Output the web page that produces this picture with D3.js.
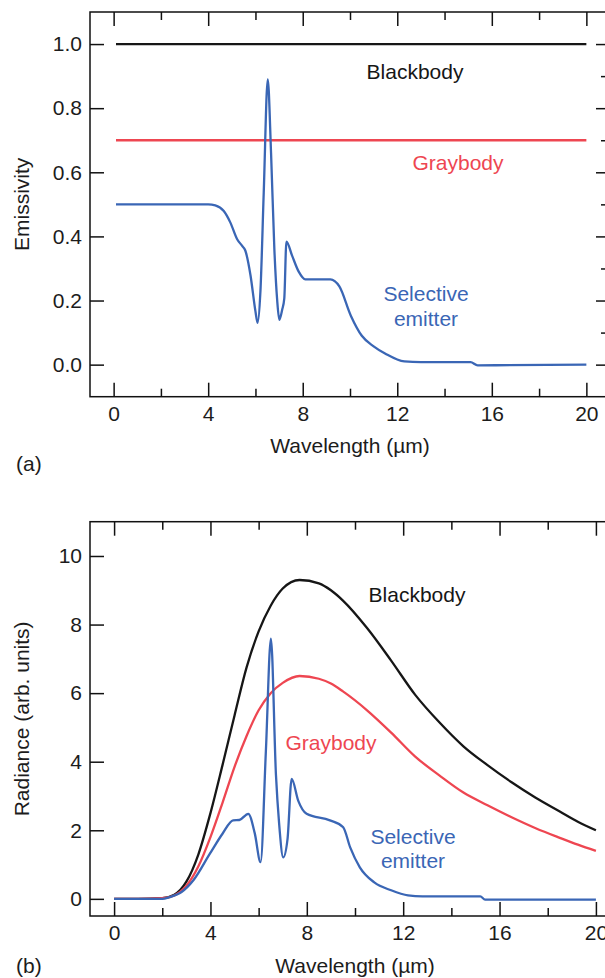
<!DOCTYPE html>
<html>
<head>
<meta charset="utf-8">
<script src="https://d3js.org/d3.v7.min.js"></script>
<style>
    body { margin: 0; background: #fff; }
    svg { display: block; font-family: "Liberation Sans", Arial, Helvetica, sans-serif; }
</style>
</head>
<body>
<svg id="chart" width="605" height="978"></svg>
<script>
    // ---- values ----
    // (a) emissivity
    const flatWl = [0.1, 20]
    const blackEmis = [1.0, 1.0]
    const grayEmis = [0.7, 0.7]
    const selEmisWl = [0.1, 2, 4, 4.3, 4.66, 4.94, 5.22, 5.43, 5.57, 5.79, 6.0, 6.09, 6.21, 6.35, 6.52,
                       6.66, 6.8, 6.92, 7.01, 7.13, 7.22, 7.31, 7.55, 7.83, 8.11, 9.17, 9.55, 10.04, 10.5,
                       11.0, 11.5, 12.3, 13, 15.1, 15.4, 20]
    const selEmis = [0.5, 0.5, 0.5, 0.497, 0.479, 0.443, 0.392, 0.371, 0.356, 0.279, 0.166, 0.13, 0.228, 0.536, 0.89,
                     0.66, 0.36, 0.2, 0.14, 0.171, 0.207, 0.384, 0.34, 0.29, 0.266, 0.266, 0.244, 0.152, 0.09,
                     0.057, 0.034, 0.01, 0.008, 0.008, -0.002, 0]

    // (b) radiance (arb. units)
    const bbWl = [0, 1, 2, 2.5, 3, 3.5, 4, 4.5, 5, 5.5, 6, 6.5, 7, 7.7, 8.5, 9, 9.5, 10.5, 11.5, 12.5,
                  13.5, 14.5, 15.5, 16.5, 17.5, 18.5, 19.25, 20]
    const blackRad = [0, 0, 0.02, 0.12, 0.5, 1.3, 2.5, 3.9, 5.35, 6.75, 7.8, 8.55, 9.05, 9.3, 9.2, 9.0, 8.7, 7.9, 6.95, 5.95,
                      5.15, 4.45, 3.9, 3.4, 2.95, 2.55, 2.25, 2.0]
    const grayRad = [0, 0, 0.02, 0.1, 0.38, 0.95, 1.8, 2.8, 3.85, 4.75, 5.5, 6.0, 6.3, 6.5, 6.42, 6.28, 6.05, 5.5, 4.85, 4.15,
                     3.6, 3.1, 2.73, 2.38, 2.06, 1.78, 1.58, 1.4]
    const selRadWl = [0, 1, 2, 2.3, 2.8, 3.3, 3.97, 4.5, 4.94, 5.2, 5.57, 5.84, 6.08, 6.3, 6.51, 6.72, 6.85, 7.02, 7.2,
                      7.37, 7.65, 7.99, 8.96, 9.51, 9.8, 10.2, 10.8, 11.5, 12.2, 12.8, 15.2, 15.4, 20]
    const selRad = [0, 0, 0, 0.05, 0.2, 0.55, 1.31, 1.9, 2.29, 2.3, 2.48, 1.91, 1.07, 4.3, 7.59, 3.6, 2.2, 1.21, 1.75,
                    3.5, 2.85, 2.48, 2.29, 2.09, 1.5, 0.92, 0.48, 0.25, 0.1, 0.07, 0.07, -0.02, -0.02]

    // ticks
    const xMajor = [0, 4, 8, 12, 16, 20]
    const xMinor = [2, 6, 10, 14, 18]
    const emisMajor = [0, 0.2, 0.4, 0.6, 0.8, 1.0]
    const emisMinor = [0.1, 0.3, 0.5, 0.7, 0.9]
    const radMajor = [0, 2, 4, 6, 8, 10]
    const radMinor = [1, 3, 5, 7, 9]

    const BLACK = "#161616", RED = "#ee4651", BLUE = "#3a66b5"
    const svg = d3.select("#chart")

    function zip(xs, ys) { return xs.map((v, i) => [v, ys[i]]) }

    function drawPanel(p) {
        let g = svg.append("g")
        let x = d3.scaleLinear().domain([-1, 21]).range([p.left, p.right])
        let y = d3.scaleLinear().domain(p.yDomain).range([p.bottom, p.top])

        // axes: ticks point inward, frame drawn separately
        function styleAxis(sel) {
            sel.select(".domain").remove()
            sel.selectAll(".tick line").attr("stroke", "#111").attr("stroke-width", 1.5)
            sel.selectAll(".tick text").attr("fill", "#1c1c1c").attr("font-size", 21)
            sel.attr("font-family", null).attr("font-size", null)
        }
        g.append("g").attr("transform", `translate(0,${p.bottom})`)
            .call(d3.axisBottom(x).tickValues(xMajor).tickSize(-14).tickPadding(9).tickFormat(d3.format("d")))
            .call(styleAxis)
        g.append("g").attr("transform", `translate(0,${p.bottom})`)
            .call(d3.axisBottom(x).tickValues(xMinor).tickSize(-8).tickFormat(""))
            .call(styleAxis)
        g.append("g").attr("transform", `translate(0,${p.top})`)
            .call(d3.axisTop(x).tickValues(xMajor).tickSize(-14).tickFormat(""))
            .call(styleAxis)
        g.append("g").attr("transform", `translate(0,${p.top})`)
            .call(d3.axisTop(x).tickValues(xMinor).tickSize(-8).tickFormat(""))
            .call(styleAxis)
        g.append("g").attr("transform", `translate(${p.left},0)`)
            .call(d3.axisLeft(y).tickValues(p.yMajor).tickSize(-14).tickPadding(8).tickFormat(p.yFmt))
            .call(styleAxis)
        g.append("g").attr("transform", `translate(${p.right},0)`)
            .call(d3.axisRight(y).tickValues(p.yMajor).tickSize(-14).tickFormat(""))
            .call(styleAxis)
        g.append("g").attr("transform", `translate(${p.right},0)`)
            .call(d3.axisRight(y).tickValues(p.yMinor).tickSize(-9).tickFormat(""))
            .call(styleAxis)

        g.append("rect")
            .attr("x", p.left).attr("y", p.top)
            .attr("width", p.right - p.left).attr("height", p.bottom - p.top)
            .attr("fill", "none").attr("stroke", "#111").attr("stroke-width", 1.5)

        // curves
        let line = d3.line().x(d => x(d[0])).y(d => y(d[1])).curve(d3.curveMonotoneX)
        p.series.forEach(s => {
            g.append("path").datum(s.pts)
                .attr("d", line)
                .attr("fill", "none")
                .attr("stroke", s.color)
                .attr("stroke-width", 2.3)
                .attr("stroke-linejoin", "round")
        })

        // curve labels
        p.labels.forEach(l => {
            g.append("text").attr("x", l.x).attr("y", l.y)
                .attr("text-anchor", "middle").attr("font-size", 21)
                .attr("fill", l.color).text(l.text)
        })

        // axis titles
        g.append("text")
            .attr("x", (x(0) + x(20)) / 2).attr("y", p.xTitleY)
            .attr("text-anchor", "middle").attr("font-size", 21).attr("fill", "#1c1c1c")
            .text("Wavelength (µm)")
        g.append("text")
            .attr("transform", `translate(29,${(p.top + p.bottom) / 2}) rotate(-90)`)
            .attr("text-anchor", "middle").attr("font-size", 21).attr("fill", "#1c1c1c")
            .text(p.yTitle)
        g.append("text")
            .attr("x", 16).attr("y", p.tagY)
            .attr("font-size", 21).attr("fill", "#1c1c1c")
            .text(p.tag)
    }

    drawPanel({
        left: 90, right: 610, top: 12, bottom: 396.7,
        yDomain: [-0.1, 1.1], yMajor: emisMajor, yMinor: emisMinor, yFmt: d3.format(".1f"),
        yTitle: "Emissivity", xTitleY: 453, tag: "(a)", tagY: 471,
        series: [
            { pts: zip(flatWl, blackEmis), color: BLACK },
            { pts: zip(flatWl, grayEmis), color: RED },
            { pts: zip(selEmisWl, selEmis), color: BLUE }
        ],
        labels: [
            { text: "Blackbody", x: 415, y: 79, color: BLACK },
            { text: "Graybody", x: 458, y: 170, color: RED },
            { text: "Selective", x: 426, y: 301, color: BLUE },
            { text: "emitter", x: 426, y: 326, color: BLUE }
        ]
    })

    drawPanel({
        left: 90, right: 620, top: 521.7, bottom: 916,
        yDomain: [-0.5, 11], yMajor: radMajor, yMinor: radMinor, yFmt: d3.format("d"),
        yTitle: "Radiance (arb. units)", xTitleY: 973, tag: "(b)", tagY: 973,
        series: [
            { pts: zip(bbWl, blackRad), color: BLACK },
            { pts: zip(bbWl, grayRad), color: RED },
            { pts: zip(selRadWl, selRad), color: BLUE }
        ],
        labels: [
            { text: "Blackbody", x: 417, y: 602, color: BLACK },
            { text: "Graybody", x: 331, y: 750, color: RED },
            { text: "Selective", x: 413, y: 844, color: BLUE },
            { text: "emitter", x: 413, y: 868, color: BLUE }
        ]
    })
</script>
</body>
</html>
